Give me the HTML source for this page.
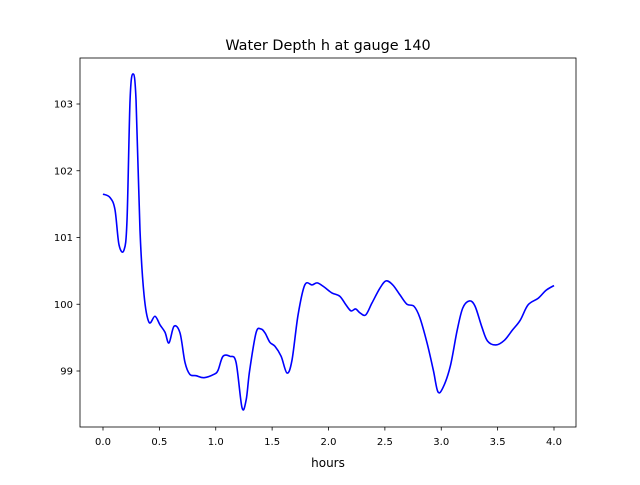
<!DOCTYPE html>
<html><head><meta charset="utf-8"><style>
body{margin:0;background:#fff;}
svg text{font-family:"DejaVu Sans","Liberation Sans",sans-serif;}
</style></head><body>
<svg id="chart" width="640" height="480" xmlns="http://www.w3.org/2000/svg">
<rect width="640" height="480" fill="#fff"/>
<text x="328" y="50" font-size="14.4" text-anchor="middle">Water Depth h at gauge 140</text>
<g id="axes"></g>
<path id="line" fill="none" stroke="#0000ff" stroke-width="1.6"/>
<rect x="80" y="58" width="496" height="369" fill="none" stroke="#000" stroke-width="0.8"/>
<text x="328" y="467" font-size="12" text-anchor="middle">hours</text>
</svg>
<script>
const hours=[0,0.062,0.106,0.142,0.186,0.213,0.24,0.266,0.293,0.328,0.364,0.408,0.461,0.506,0.55,0.585,0.63,0.683,0.727,0.77,0.825,0.896,0.984,1.02,1.064,1.126,1.18,1.233,1.27,1.3,1.357,1.4,1.437,1.48,1.525,1.58,1.632,1.676,1.73,1.79,1.855,1.9,1.96,2.03,2.1,2.155,2.2,2.24,2.28,2.33,2.386,2.456,2.51,2.57,2.634,2.696,2.758,2.81,2.874,2.93,2.97,3.015,3.08,3.14,3.19,3.25,3.3,3.36,3.41,3.485,3.56,3.63,3.7,3.77,3.86,3.93,4.0];
const depth=[101.65,101.6,101.42,100.89,100.81,101.26,103.06,103.45,103.06,101.11,100.14,99.73,99.82,99.69,99.58,99.42,99.67,99.57,99.13,98.95,98.93,98.9,98.95,99.01,99.22,99.22,99.13,98.45,98.57,99.0,99.57,99.63,99.57,99.43,99.37,99.22,98.97,99.16,99.84,100.29,100.29,100.32,100.26,100.17,100.12,99.99,99.9,99.93,99.87,99.84,100.02,100.24,100.35,100.29,100.14,100.0,99.97,99.8,99.42,99.01,98.69,98.75,99.07,99.6,99.94,100.05,99.97,99.66,99.45,99.39,99.46,99.61,99.76,99.99,100.09,100.21,100.28];
const xTicks=[0,0.5,1,1.5,2,2.5,3,3.5,4];
const xTickLabels=["0.0","0.5","1.0","1.5","2.0","2.5","3.0","3.5","4.0"];
const yTicks=[99,100,101,102,103];
const yTickLabels=["99","100","101","102","103"];
const X=v=>103+v*112.75;
const Y=v=>371-(v-99)*66.75;
const ns="http://www.w3.org/2000/svg";
const ax=document.getElementById('axes');
function mk(t,a){const e=document.createElementNS(ns,t);for(const k in a)e.setAttribute(k,a[k]);ax.appendChild(e);return e;}
xTicks.forEach((v,i)=>{
 const l=mk('line',{x1:X(v),x2:X(v),y1:427,y2:430.5,stroke:'#000','stroke-width':0.8});
 
 
 const t=mk('text',{x:X(v),y:445,'font-size':10,'text-anchor':'middle'});t.textContent=xTickLabels[i];
 
 
});
yTicks.forEach((v,i)=>{
 const l=mk('line',{x1:76.5,x2:80,y1:Y(v),y2:Y(v),stroke:'#000','stroke-width':0.8});
 
 
 const t=mk('text',{x:73,y:Y(v)+3.5,'font-size':10,'text-anchor':'end'});t.textContent=yTickLabels[i];
 
 
});
const P=hours.map((h,i)=>[X(h),Y(depth[i])]);
let d='M'+P[0][0]+','+P[0][1];
for(let i=0;i<P.length-1;i++){
 const p0=P[Math.max(0,i-1)],p1=P[i],p2=P[i+1],p3=P[Math.min(P.length-1,i+2)];
 const c1=[p1[0]+(p2[0]-p0[0])/6,p1[1]+(p2[1]-p0[1])/6];
 const c2=[p2[0]-(p3[0]-p1[0])/6,p2[1]-(p3[1]-p1[1])/6];
 d+=` C${c1[0]},${c1[1]} ${c2[0]},${c2[1]} ${p2[0]},${p2[1]}`;
}
document.getElementById('line').setAttribute('d',d);
</script>
</body></html>
